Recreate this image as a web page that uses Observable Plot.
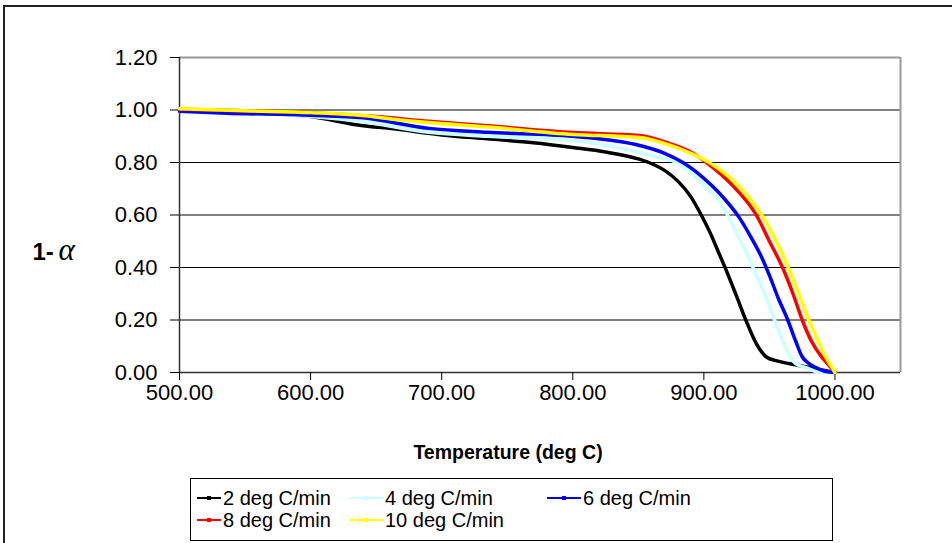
<!DOCTYPE html>
<html>
<head>
<meta charset="utf-8">
<script src="https://cdn.jsdelivr.net/npm/d3@7"></script>
<script src="https://cdn.jsdelivr.net/npm/@observablehq/plot@0.6"></script>
<style>
  body { margin: 0; background: #fff; font-family: Arial, "Liberation Sans", sans-serif; }
  #wrap { position: relative; width: 952px; height: 543px; overflow: hidden; background: #fff; }
  #frame { position: absolute; left: 3px; top: 5px; width: 1000px; height: 700px;
           border-left: 2px solid #222; border-top: 2px solid #222; }
  #chart { position: absolute; left: 0; top: 0; }
  #legend { position: absolute; left: 190px; top: 478px; width: 641px; height: 61px;
            border: 1.5px solid #000; background: #fff; }
  .item { position: absolute; display: flex; align-items: center; height: 22px;
          font-size: 20px; color: #000; white-space: nowrap; }
  .item svg { margin-right: 2px; }
</style>
</head>
<body>
<div id="wrap">
  <div id="frame"></div>
  <div id="chart"></div>
  <div id="legend"></div>
</div>
<script>
// ---- data ----
const seriesNames = ["2 deg C/min", "4 deg C/min", "6 deg C/min", "8 deg C/min", "10 deg C/min"];
const seriesColors = ["#000000", "#ccffff", "#0000ff", "#ff0000", "#ffff00"];

const temp2  = [500,550,600,640,660,700,735,770,800,825,849,858,870,880,890,898,905,911,917,925,932,940,948,955,965,980,990,1000];
const alpha2 = [1.00,0.99,0.975,0.94,0.93,0.905,0.89,0.875,0.857,0.84,0.815,0.80,0.77,0.73,0.67,0.60,0.53,0.46,0.39,0.29,0.20,0.11,0.058,0.045,0.034,0.02,0.01,0.0];

const temp4  = [500,550,600,640,690,735,800,851,865,879,890,902,910,918,926,934,941,948,954,962,970,980,988,1000];
const alpha4 = [0.995,0.99,0.975,0.955,0.915,0.90,0.884,0.838,0.82,0.80,0.76,0.705,0.665,0.60,0.52,0.44,0.36,0.28,0.20,0.10,0.034,0.015,0.0,0.0];

const temp6  = [500,536,600,640,690,735,800,851,870,884,906,916,927,936,944,950,957,964,970,975,980,985,992,1000];
const alpha6 = [0.995,0.988,0.98,0.97,0.93,0.915,0.90,0.865,0.835,0.80,0.712,0.66,0.59,0.515,0.44,0.37,0.28,0.20,0.12,0.06,0.035,0.02,0.005,0.0];

const temp8  = [500,550,600,650,690,735,800,851,874,890,902,922,940,950,960,968,975,982,990,995,1000];
const alpha8 = [1.003,0.997,0.99,0.975,0.957,0.94,0.914,0.903,0.872,0.84,0.80,0.712,0.60,0.50,0.40,0.30,0.20,0.12,0.058,0.03,0.0];

const temp10  = [500,550,600,640,665,690,735,800,851,874,890,904,918,932,944,952,959,966,973,980,987,993,997,1000];
const alpha10 = [1.005,0.997,0.99,0.979,0.964,0.952,0.935,0.907,0.895,0.866,0.835,0.80,0.75,0.68,0.60,0.53,0.46,0.38,0.29,0.20,0.12,0.058,0.025,0.0];

const xTicks = [500, 600, 700, 800, 900, 1000];
const yTicks = [0, 0.2, 0.4, 0.6, 0.8, 1.0, 1.2];
const gridValues = [0.2, 0.4, 0.6, 0.8, 1.0];

// ---- build table ----
const temps = [temp2, temp4, temp6, temp8, temp10];
const alphas = [alpha2, alpha4, alpha6, alpha8, alpha10];
const rows = seriesNames.flatMap((s, i) => temps[i].map((t, j) => ({series: s, T: t, v: alphas[i][j]})));

const H = 475;
const chart = Plot.plot({
  width: 952,
  height: H,
  marginLeft: 179,
  marginRight: 52,
  marginTop: 57,
  marginBottom: H - 372,
  style: {fontFamily: "Arial, 'Liberation Sans', sans-serif", fontSize: "22px", background: "transparent", color: "#000"},
  x: {domain: [500, 1050]},
  y: {domain: [0, 1.2]},
  color: {domain: seriesNames, range: seriesColors},
  marks: [
    Plot.ruleY(gridValues, {stroke: "#000", strokeWidth: 1}),
    Plot.ruleY([1.2], {stroke: "#999", strokeWidth: 2}),
    Plot.ruleX([1050], {stroke: "#999", strokeWidth: 2}),
    Plot.ruleX([500], {stroke: "#333", strokeWidth: 1.5}),
    Plot.ruleY([0], {stroke: "#333", strokeWidth: 1.5}),
    Plot.axisY({ticks: yTicks, tickFormat: d => d.toFixed(2), tickSize: 9, tickPadding: 13, label: null, fontSize: 22}),
    Plot.axisX({ticks: xTicks, tickFormat: d => d.toFixed(2), tickSize: 8, tickPadding: 4, label: null, fontSize: 22}),
    Plot.line(rows, {x: "T", y: "v", z: "series", stroke: "series", strokeWidth: 3.5, curve: "monotone-x"}),
    Plot.text(["Temperature (deg C)"], {text: d => d, frameAnchor: "bottom", dx: -32, dy: 86, fontWeight: "bold", fontSize: 19.5}),
    Plot.text(["1-"], {text: d => d, frameAnchor: "left", dx: -147, dy: 37, textAnchor: "start", fontWeight: "bold", fontSize: 24}),
    Plot.text(["α"], {text: d => d, frameAnchor: "left", dx: -121, dy: 35, textAnchor: "start", fontStyle: "italic", fontFamily: "'Liberation Serif', 'Times New Roman', serif", fontSize: 31})
  ]
});
document.getElementById("chart").appendChild(chart);

// ---- legend ----
const legend = document.getElementById("legend");
const legendPos = [[6, 19], [158, 19], [356, 19], [6, 41], [158, 41]];
const legendLine = [24, 34, 34, 24, 34];
seriesNames.forEach((s, i) => {
  const d = document.createElement("div");
  d.className = "item";
  d.style.left = legendPos[i][0] + "px";
  d.style.top = (legendPos[i][1] - 11) + "px";
  const w = legendLine[i];
  d.innerHTML = `<svg width="${w}" height="10"><line x1="0" x2="${w}" y1="5" y2="5" stroke="${seriesColors[i]}" stroke-width="2"/>` +
    `<rect x="${w / 2 - 2}" y="3" width="4" height="4" fill="${seriesColors[i]}"/></svg><span>${s}</span>`;
  legend.appendChild(d);
});
</script>
</body>
</html>
